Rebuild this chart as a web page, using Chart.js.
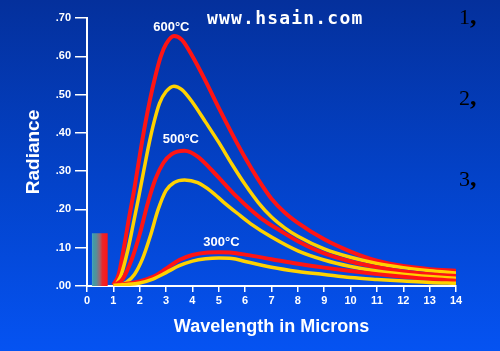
<!DOCTYPE html>
<html>
<head>
<meta charset="utf-8">
<script src="https://cdn.jsdelivr.net/npm/chart.js@4.4.0/dist/chart.umd.min.js"></script>
<style>
  html, body { margin: 0; padding: 0; }
  #wrap {
    position: relative; width: 500px; height: 351px; overflow: hidden;
    background: linear-gradient(to bottom, #04309c 0%, #0342c8 50%, #0553f2 100%);
  }
  #c { position: absolute; left: 0; top: 0; }
  #site {
    position: absolute; left: 207px; top: 7px; line-height: 18px;
    font: bold 18px "DejaVu Sans Mono", monospace; letter-spacing: 1.2px; color: #fff;
  }
  .num {
    position: absolute; left: 459px; line-height: 22px;
    font: 22px "Liberation Serif", serif; color: #000;
  }
  .num b { font-weight: bold; font-size: 26px; }
</style>
</head>
<body>
<div id="wrap">
  <canvas id="c" width="500" height="351"></canvas>
  <div id="site">www.hsain.com</div>
  <div class="num" style="top:1px">1<b>,</b></div>
  <div class="num" style="top:82px">2<b>,</b></div>
  <div class="num" style="top:163px">3<b>,</b></div>
</div>
<script>
"use strict";
// Data (wavelength in microns, radiance)
const wlRed600 = [1.0, 1.2, 1.4, 1.6, 1.8, 2.0, 2.2, 2.4, 2.6, 2.8, 3.0, 3.3, 3.6, 4.0, 4.5, 5.0, 5.5, 6.0, 6.5, 7, 7.5, 8, 9, 10, 11, 12, 13, 14];
const radRed600 = [0.003, 0.03, 0.1, 0.18, 0.255, 0.34, 0.42, 0.49, 0.55, 0.6, 0.632, 0.653, 0.643, 0.6, 0.535, 0.465, 0.398, 0.335, 0.278, 0.228, 0.192, 0.165, 0.122, 0.09, 0.066, 0.052, 0.044, 0.04];

const wlYel600 = [1.1, 1.3, 1.55, 1.75, 1.95, 2.15, 2.35, 2.55, 2.75, 3.0, 3.3, 3.6, 4.0, 4.5, 5.0, 5.5, 6.0, 6.5, 7, 7.5, 8, 9, 10, 11, 12, 13, 14];
const radYel600 = [0.003, 0.03, 0.094, 0.16, 0.228, 0.3, 0.37, 0.43, 0.477, 0.508, 0.522, 0.513, 0.48, 0.428, 0.375, 0.318, 0.265, 0.218, 0.18, 0.152, 0.13, 0.097, 0.075, 0.059, 0.048, 0.04, 0.034];

const wlRed500 = [1.05, 1.35, 1.7, 2.0, 2.3, 2.6, 2.9, 3.2, 3.7, 4.2, 4.7, 5.2, 5.7, 6.2, 6.7, 7.2, 8, 9, 10, 11, 12, 13, 14];
const radRed500 = [0.002, 0.018, 0.07, 0.135, 0.215, 0.28, 0.322, 0.344, 0.353, 0.338, 0.305, 0.268, 0.232, 0.2, 0.172, 0.15, 0.117, 0.085, 0.064, 0.049, 0.038, 0.031, 0.026];

const wlYel500 = [1.2, 1.5, 1.8, 2.1, 2.4, 2.7, 3.0, 3.3, 3.7, 4.2, 4.7, 5.2, 5.7, 6.2, 7, 8, 9, 10, 11, 12, 13, 14];
const radYel500 = [0.002, 0.01, 0.03, 0.07, 0.13, 0.2, 0.25, 0.27, 0.277, 0.27, 0.248, 0.218, 0.19, 0.163, 0.128, 0.092, 0.068, 0.051, 0.039, 0.031, 0.025, 0.02];

const wl300 = [1, 1.5, 2, 2.5, 3, 3.5, 4, 4.5, 5, 5.5, 6, 7, 8, 9, 10, 11, 12, 13, 14];
const radRed300 = [0.003, 0.006, 0.012, 0.024, 0.045, 0.068, 0.081, 0.087, 0.088, 0.087, 0.082, 0.07, 0.058, 0.048, 0.039, 0.031, 0.024, 0.018, 0.014];
const radYel300 = [0.002, 0.004, 0.008, 0.018, 0.035, 0.053, 0.065, 0.071, 0.073, 0.072, 0.064, 0.049, 0.038, 0.03, 0.022, 0.017, 0.013, 0.009, 0.007];

// visible band block
const visibleWl = [0.18, 0.79];
const visibleRad = 0.138;

const tempLabels = ["600°C", "500°C", "300°C"];
const tempLabelWl = [3.2, 3.56, 5.1];
const tempLabelRad = [0.675, 0.382, 0.113];

const yTickLabels = [".00", ".10", ".20", ".30", ".40", ".50", ".60", ".70"];

const RED = "#ff1414";
const YELLOW = "#ffd200";

function pts(xs, ys) {
    return xs.map((x, i) => ({ x: x, y: ys[i] }));
}

function curve(xs, ys, color, width) {
    return {
        data: pts(xs, ys),
        borderColor: color,
        borderWidth: width,
        pointRadius: 0,
        fill: false,
        cubicInterpolationMode: "monotone",
    };
}

function bandFill(context) {
    const chart = context.chart;
    if (!chart.chartArea) return RED;
    const xs = chart.scales.x;
    const g = chart.ctx.createLinearGradient(xs.getPixelForValue(visibleWl[0]), 0, xs.getPixelForValue(visibleWl[1]), 0);
    g.addColorStop(0, "#56a4c4");
    g.addColorStop(0.1, "#3f9ca8");
    g.addColorStop(0.3, "#5a8c96");
    g.addColorStop(0.5, "#9c6670");
    g.addColorStop(0.66, "#e8282c");
    g.addColorStop(1, "#ff1414");
    return g;
}

const bandPoints = [
    { x: visibleWl[0], y: 0 },
    { x: visibleWl[0], y: visibleRad },
    { x: visibleWl[1], y: visibleRad },
    { x: visibleWl[1], y: 0 },
];

const tempLabelPlugin = {
    id: "tempLabels",
    afterDatasetsDraw(chart) {
        const { ctx, scales } = chart;
        ctx.save();
        ctx.fillStyle = "#fff";
        ctx.font = 'bold 13px "Liberation Sans", Arial, sans-serif';
        ctx.textAlign = "center";
        ctx.textBaseline = "middle";
        tempLabels.forEach((t, i) => {
            ctx.fillText(t, scales.x.getPixelForValue(tempLabelWl[i]), scales.y.getPixelForValue(tempLabelRad[i]));
        });
        ctx.restore();
    },
};

const tickFont = { family: "'Liberation Sans', Arial, sans-serif", weight: "bold", size: 11 };
const titleFont = { family: "'Liberation Sans', Arial, sans-serif", weight: "bold", size: 18 };

const config = {
    type: "line",
    data: {
        datasets: [
            {
                data: bandPoints,
                fill: "origin",
                backgroundColor: bandFill,
                borderWidth: 0,
                pointRadius: 0,
                tension: 0,
            },
            curve(wl300, radYel300, YELLOW, 3.5),
            curve(wl300, radRed300, RED, 4),
            curve(wlYel500, radYel500, YELLOW, 3.5),
            curve(wlRed500, radRed500, RED, 4),
            curve(wlYel600, radYel600, YELLOW, 3.5),
            curve(wlRed600, radRed600, RED, 4),
        ],
    },
    options: {
        responsive: false,
        animation: false,
        devicePixelRatio: 1,
        layout: { padding: { left: 0, right: 44, top: 18, bottom: 0 } },
        plugins: {
            legend: { display: false },
            tooltip: { enabled: false },
        },
        scales: {
            x: {
                type: "linear",
                min: 0,
                max: 14,
                afterFit: (s) => { s.height = 65; },
                ticks: { stepSize: 1, color: "#fff", font: tickFont, padding: 2, maxRotation: 0 },
                grid: { drawOnChartArea: false, color: "#fff", tickLength: 6, lineWidth: 1.5 },
                border: { color: "#fff", width: 2 },
                title: {
                    display: true,
                    text: "Wavelength in Microns",
                    color: "#fff",
                    font: titleFont,
                    padding: { top: 0, bottom: 13 },
                },
            },
            y: {
                type: "linear",
                min: 0,
                max: 0.7,
                afterFit: (s) => { s.width = 87; },
                ticks: {
                    stepSize: 0.1,
                    color: "#fff",
                    font: tickFont,
                    padding: 4,
                    callback: (v, i) => yTickLabels[i],
                },
                grid: { drawOnChartArea: false, color: "#fff", tickLength: 12, lineWidth: 1.5 },
                border: { color: "#fff", width: 2 },
                title: {
                    display: true,
                    text: "Radiance",
                    color: "#fff",
                    font: { family: titleFont.family, weight: "bold", size: 19 },
                    padding: { top: 22, bottom: 0 },
                },
            },
        },
    },
    plugins: [tempLabelPlugin],
};

const myChart = new Chart(document.getElementById("c"), config);
</script>
</body>
</html>
